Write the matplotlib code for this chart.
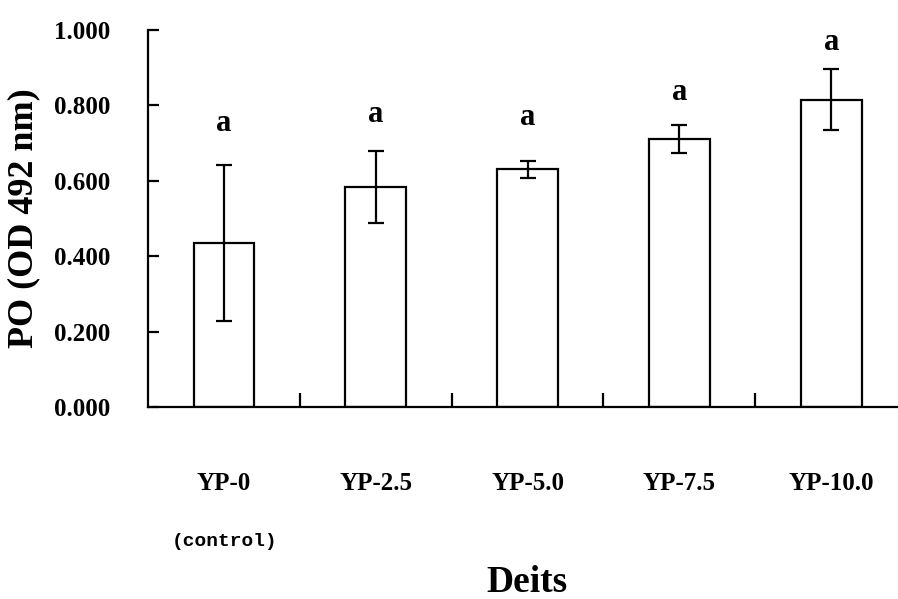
import numpy as np
import matplotlib
matplotlib.use("Agg")
import matplotlib.pyplot as plt
from matplotlib.ticker import FixedLocator

plt.rcParams['font.family'] = ['Liberation Serif', 'DejaVu Serif']
plt.rcParams['font.weight'] = 'bold'

# data
diets = ['YP-0', 'YP-2.5', 'YP-5.0', 'YP-7.5', 'YP-10.0']
po_mean = [0.435, 0.584, 0.630, 0.710, 0.815]
po_err = [0.208, 0.096, 0.023, 0.037, 0.081]
letters = ['a', 'a', 'a', 'a', 'a']
letter_y = [0.751, 0.777, 0.769, 0.833, 0.968]

fig = plt.figure(figsize=(8.98, 5.99), dpi=100)
ax = fig.add_axes([148 / 898, 1 - 407 / 599, 1 - 148 / 898, (407 - 30) / 599])

x = np.arange(len(diets))
ax.bar(x, po_mean, width=0.40, color='white', edgecolor='black', linewidth=1.6)
ax.errorbar(x, po_mean, yerr=po_err, fmt='none', ecolor='black',
            elinewidth=1.6, capsize=5.5, capthick=1.6)

for xi, ly, t in zip(x, letter_y, letters):
    ax.text(xi, ly, t, ha='center', va='center', fontsize=22,
            fontweight='bold', clip_on=False)

ax.set_xlim(-0.5, 4.44)
ax.set_ylim(0, 1.0)
ax.set_yticks(np.arange(0, 1.01, 0.2))
ax.set_yticklabels(['%.3f' % v for v in np.arange(0, 1.01, 0.2)])
ax.set_xticks(x)
ax.set_xticklabels(diets)
ax.xaxis.set_minor_locator(FixedLocator(x[:-1] + 0.5))

ax.tick_params(axis='y', direction='in', length=8, width=1.6, pad=27,
               labelsize=18)
ax.tick_params(axis='x', which='major', length=0, pad=47, labelsize=18)
ax.tick_params(axis='x', which='minor', direction='in', length=10, width=1.6)
for lab in ax.get_xticklabels() + ax.get_yticklabels():
    lab.set_fontweight('bold')

for s in ['top', 'right']:
    ax.spines[s].set_visible(False)
for s in ['left', 'bottom']:
    ax.spines[s].set_linewidth(1.6)

ax.set_ylabel('PO (OD 492 nm)', fontsize=26, fontweight='bold')
ax.yaxis.set_label_coords(-108 / 750, 0.5)

fig.text(225 / 898, 1 - 541 / 599, '(control)', family='Liberation Mono',
         fontsize=14, fontweight='bold', ha='center', va='center')
fig.text(527 / 898, 1 - 583 / 599, 'Deits', fontsize=27, fontweight='bold',
         ha='center', va='center')

fig.savefig('out.png', dpi=100)
